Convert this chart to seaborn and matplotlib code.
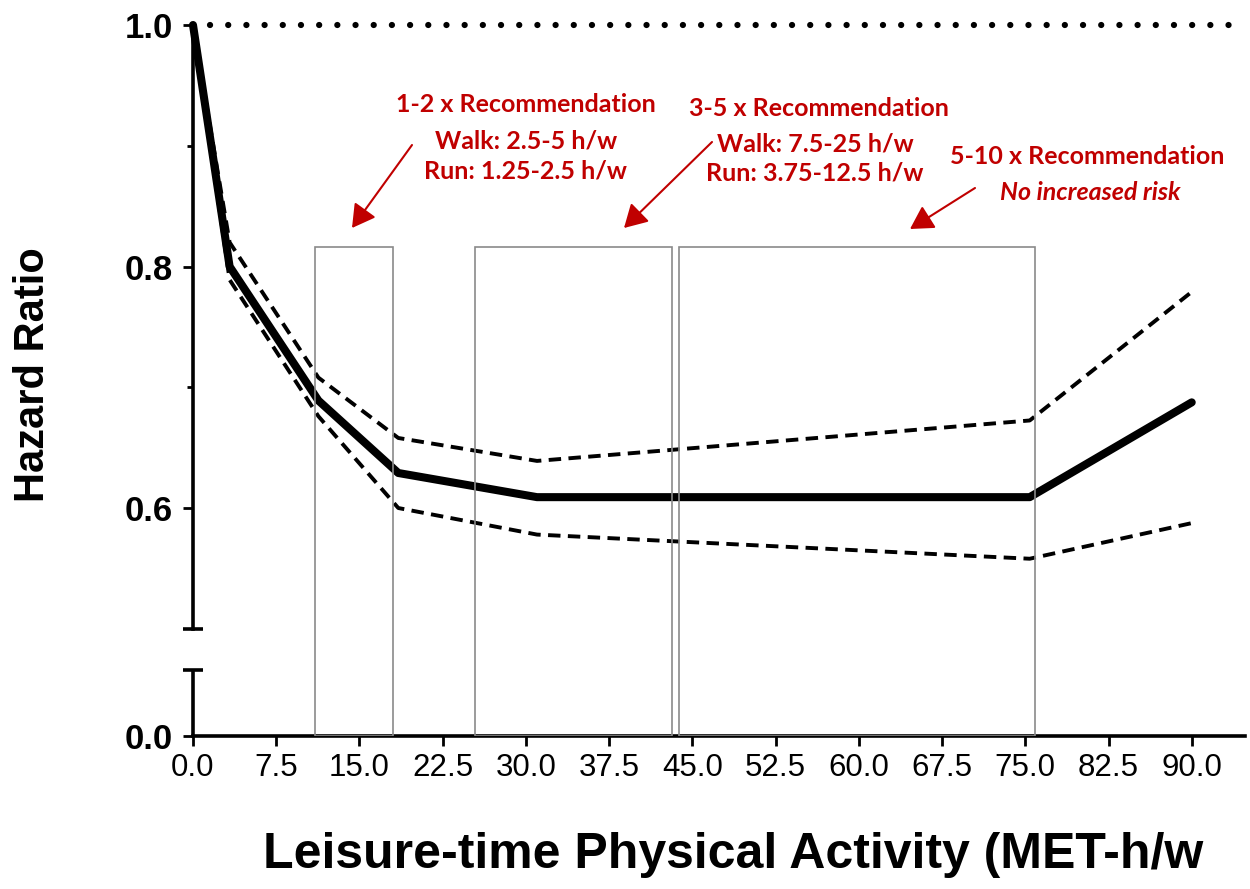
import numpy as np
import pandas as pd
import matplotlib
matplotlib.use("Agg")
import matplotlib.pyplot as plt
import seaborn as sns
from matplotlib.patches import Rectangle

# ---------------- data ----------------
met = [0.0, 3.3, 11.3, 18.5, 31.0, 75.4, 90.0]
hazard = [1.0, 0.800, 0.689, 0.629, 0.609, 0.609, 0.6875]
ci_upper = [1.0, 0.820, 0.708, 0.658, 0.639, 0.6725, 0.779]
ci_lower = [1.0, 0.789, 0.676, 0.600, 0.578, 0.558, 0.5875]

x_ticks = [0.0, 7.5, 15.0, 22.5, 30.0, 37.5, 45.0, 52.5, 60.0, 67.5, 75.0, 82.5, 90.0]
y_ticks = [0.0, 0.6, 0.8, 1.0]
y_minor = [0.7, 0.9]
ref_value = 1.0

box_start = [11.0, 25.4, 43.8]
box_end = [18.0, 43.2, 75.9]
box_top = 0.816

block1 = ["1-2 x Recommendation", "Walk: 2.5-5 h/w", "Run: 1.25-2.5 h/w"]
block2 = ["3-5 x Recommendation", "Walk: 7.5-25 h/w", "Run: 3.75-12.5 h/w"]
block3 = ["5-10 x Recommendation", "No increased risk"]

x_label = "Leisure-time Physical Activity (MET-h/w"
y_label = "Hazard Ratio"

# ---------------- style ----------------
sns.set_style("ticks", {"axes.edgecolor": "black", "text.color": "black",
                        "xtick.color": "black", "ytick.color": "black",
                        "axes.labelcolor": "black"})
plt.rcParams["font.family"] = ["Liberation Sans", "DejaVu Sans"]

W, H = 1250, 889
fig = plt.figure(figsize=(W / 100, H / 100), dpi=100)
ax = fig.add_axes([193 / W, (H - 736) / H, (1245 - 193) / W, (736 - 25) / H])

def fx(px):
    return px / W

def fy(py):
    return 1 - py / H

# broken y axis through a piecewise-linear function scale
_yp = [-1.0, 0.0, 0.05, 0.5, 2.0]
_tp = [0.4112 - 1.0, 0.4112, 0.4658, 0.5, 2.0]

def fwd(y):
    return np.interp(y, _yp, _tp)

def inv(t):
    return np.interp(t, _tp, _yp)

ax.set_yscale("function", functions=(fwd, inv))
ax.set_xlim(0, 94.8)
ax.set_ylim(0.0, 1.0)

df = pd.DataFrame({"met": met, "hr": hazard, "up": ci_upper, "lo": ci_lower})
sns.lineplot(data=df, x="met", y="hr", ax=ax, color="black", lw=5.8,
             clip_on=False, zorder=2)
sns.lineplot(data=df, x="met", y="up", ax=ax, color="black", lw=2.8,
             linestyle=(0, (3.2, 1.9)), clip_on=False, zorder=2)
sns.lineplot(data=df, x="met", y="lo", ax=ax, color="black", lw=2.8,
             linestyle=(0, (3.2, 1.9)), clip_on=False, zorder=2)

# recommendation boxes
for s, e in zip(box_start, box_end):
    ax.add_patch(Rectangle((s, 0.0), e - s, box_top - 0.0, fill=False,
                           edgecolor="#8a8a8a", lw=1.2, zorder=3))

# dotted reference line
ax.axhline(ref_value, xmin=17 / 1052, xmax=1.0, color="black", lw=4.5,
           linestyle=(0, (0.01, 2.9)), dash_capstyle="round", clip_on=False)

# axes / spines
for sp in ["top", "right"]:
    ax.spines[sp].set_visible(False)
ax.spines["left"].set_bounds(0.5, 1.0)
ax.spines["left"].set_linewidth(2.6)
ax.spines["bottom"].set_linewidth(2.6)
ax.spines["left"].set_color("black")
ax.spines["bottom"].set_color("black")
ax.plot([0, 0], [0.0, 0.05], color="black", lw=2.6, clip_on=False,
        solid_capstyle="butt", zorder=4)
ax.plot([0, 0], [0.5, 0.05], ls="none", marker="_", ms=14, mew=2.6,
        color="black", clip_on=False, zorder=4)

ax.set_xticks(x_ticks)
ax.set_xticklabels([f"{v:.1f}" for v in x_ticks])
ax.set_yticks(y_ticks)
ax.set_yticklabels([f"{v:.1f}" for v in y_ticks])
ax.set_yticks(y_minor, minor=True)
ax.tick_params(axis="x", direction="out", length=7.5, width=2, labelsize=22.5,
               pad=5, colors="black")
ax.tick_params(axis="y", which="major", direction="out", length=7.5, width=2,
               labelsize=25, pad=7, colors="black")
ax.tick_params(axis="y", which="minor", direction="out", length=4.5, width=2,
               colors="black")
for lab in ax.get_yticklabels():
    lab.set_fontweight("bold")

ax.set_xlabel("")
ax.set_ylabel("")
fig.text(fx(733), fy(855), x_label, ha="center", va="center",
         fontsize=36, fontweight="bold", color="black")
fig.text(fx(33), fy(375), y_label, ha="center", va="center", rotation=90,
         fontsize=30, fontweight="bold", color="black")

# annotations
red = "#C00000"
afont = dict(family=["Lato", "DejaVu Sans"], fontweight="bold", color=red,
             ha="center", va="center", fontsize=18)
for txt, (cx, cy) in zip(block1, [(526, 105), (526, 141), (526, 171)]):
    fig.text(fx(cx), fy(cy), txt, **afont)
for txt, (cx, cy) in zip(block2, [(819, 108), (815, 144), (815, 173)]):
    fig.text(fx(cx), fy(cy), txt, **afont)
fig.text(fx(1087), fy(157), block3[0], **afont)
fig.text(fx(1090), fy(192), block3[1], style="italic", **afont)

arrows = [((412, 145), (352, 228)), ((712, 142), (624, 228)), ((975, 188), (910, 229))]
for (tx, ty), (hx, hy) in arrows:
    ax.annotate("", xy=(fx(hx), fy(hy)), xytext=(fx(tx), fy(ty)),
                xycoords="figure fraction", textcoords="figure fraction",
                arrowprops=dict(arrowstyle="-|>,head_length=0.7,head_width=0.4",
                                color=red, lw=1.5, mutation_scale=20,
                                shrinkA=0, shrinkB=0))

fig.savefig("out.png", dpi=100)
